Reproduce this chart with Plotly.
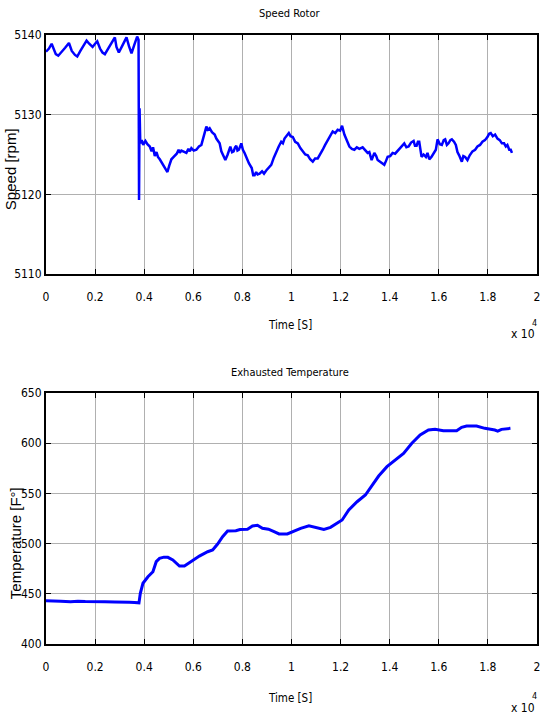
import plotly.graph_objects as go

# ---- Speed rotor (rpm) ----
speed_time = [
    0, 120, 230, 300, 400, 500, 620, 780, 935, 1050, 1180, 1273, 1400, 1520, 1653,
    1760, 1897, 2000, 2087, 2200, 2300, 2398, 2550, 2700, 2805, 2870, 2967, 3100,
    3200, 3279, 3380, 3483, 3600, 3713, 3770, 3790, 3810, 3840, 3900, 3960, 4050,
    4130, 4228, 4300, 4360, 4431, 4500, 4560, 4634, 4720, 4800, 4870, 4946, 5020,
    5108, 5200, 5325, 5400, 5450, 5515, 5600, 5718, 5800, 5860, 5922, 6020, 6125,
    6230, 6329, 6420, 6480, 6532, 6600, 6667, 6760, 6870, 6939, 7073, 7142, 7220,
    7305, 7400, 7508, 7580, 7642, 7700, 7752, 7800, 7858, 7955, 8020, 8089, 8170,
    8264, 8380, 8440, 8496, 8560, 8620, 8699, 8800, 8880, 8970, 9070, 9175, 9280,
    9378, 9480, 9581, 9650, 9715, 9800, 9890, 9960, 10053, 10150, 10257, 10360,
    10460, 10560, 10663, 10760, 10866, 10960, 11069, 11170, 11272, 11370, 11476,
    11580, 11679, 11782, 11882, 11980, 12060, 12154, 12250, 12358, 12460, 12561,
    12660, 12764, 12898, 13000, 13102, 13170, 13264, 13374, 13450, 13509, 13640,
    13780, 13850, 13916, 14020, 14119, 14220, 14322, 14450, 14593, 14680, 14770,
    14870, 14973, 15030, 15095, 15150, 15203, 15298, 15380, 15474, 15540, 15610,
    15700, 15813, 15880, 15949, 16040, 16125, 16200, 16260, 16330, 16396, 16470,
    16531, 16620, 16694, 16760, 16829, 16938, 17000, 17073, 17168, 17260, 17371,
    17480, 17574, 17680, 17777, 17880, 17980, 18050, 18116, 18200, 18293, 18390,
    18483, 18570, 18659, 18730, 18794, 18870, 18930, 18980,
]
speed_rpm = [
    5137.9, 5138.3, 5138.9, 5138.4, 5137.6, 5137.4, 5137.8, 5138.4, 5139.0, 5138.0,
    5137.5, 5137.3, 5138.0, 5138.7, 5139.3, 5138.9, 5138.5, 5138.9, 5139.2, 5138.3,
    5137.8, 5137.6, 5138.4, 5139.2, 5139.7, 5138.5, 5137.8, 5138.6, 5139.3, 5139.7,
    5138.6, 5137.7, 5138.8, 5139.8, 5139.4, 5119.3, 5130.8, 5126.4, 5126.8, 5126.2,
    5126.7, 5126.3, 5126.0, 5125.4, 5125.9, 5124.8, 5125.3, 5124.7, 5124.4, 5124.0,
    5123.5, 5123.2, 5122.8, 5123.6, 5124.4, 5124.7, 5125.1, 5125.6, 5125.2, 5125.5,
    5125.4, 5125.2, 5125.7, 5125.4, 5125.8, 5125.5, 5125.6, 5126.0, 5126.2, 5127.2,
    5128.0, 5128.5, 5128.1, 5128.3, 5127.8, 5127.5, 5127.0, 5126.4, 5125.4, 5124.9,
    5124.3, 5125.0, 5126.0, 5125.3, 5125.4, 5125.9, 5126.1, 5125.5, 5125.6, 5126.4,
    5125.6, 5125.2, 5124.6, 5123.9, 5123.3, 5122.4, 5122.4, 5122.8, 5122.5, 5122.6,
    5122.9, 5122.6, 5123.0, 5123.4, 5123.7, 5124.6, 5125.4, 5126.0, 5126.6, 5126.4,
    5127.0, 5127.3, 5127.7, 5127.3, 5127.2, 5126.6, 5126.4, 5125.8, 5125.4, 5125.0,
    5124.9, 5124.4, 5124.1, 5124.5, 5124.5, 5125.0, 5125.6, 5126.2, 5126.8, 5127.3,
    5127.9, 5127.7, 5128.1, 5128.0, 5128.6, 5127.5, 5126.7, 5126.0, 5125.7, 5125.6,
    5125.9, 5125.7, 5125.9, 5125.6, 5125.2, 5125.3, 5124.3, 5125.2, 5124.8, 5124.3,
    5124.0, 5123.7, 5124.2, 5124.7, 5124.8, 5125.2, 5125.1, 5125.4, 5125.9, 5126.4,
    5125.9, 5126.0, 5126.5, 5126.7, 5126.1, 5126.1, 5126.6, 5126.6, 5124.7, 5125.0,
    5124.7, 5125.2, 5124.4, 5124.7, 5125.2, 5125.6, 5126.9, 5126.3, 5126.2, 5126.8,
    5126.9, 5126.2, 5126.4, 5126.8, 5126.9, 5126.6, 5126.2, 5125.3, 5124.9, 5124.1,
    5124.8, 5124.7, 5124.3, 5124.9, 5125.4, 5125.6, 5126.0, 5126.2, 5126.6, 5126.8,
    5127.2, 5127.6, 5127.7, 5127.3, 5127.5, 5127.0, 5126.8, 5126.4, 5126.4, 5126.0,
    5126.2, 5125.6, 5125.6, 5125.2,
]

# ---- Exhausted temperature (F) ----
temp_time = [
    0, 300, 600, 1000, 1300, 1600, 2000, 2400, 2800, 3100, 3400, 3600, 3787, 3842,
    3949, 4152, 4355, 4490, 4625, 4800, 4963, 5166, 5436, 5639, 5910, 6247, 6585,
    6788, 6991, 7194, 7397, 7734, 7900, 8207, 8410, 8613, 8816, 9060, 9290, 9493,
    9831, 10034, 10372, 10710, 11048, 11318, 11589, 11859, 12062, 12333, 12671,
    13009, 13279, 13550, 13888, 14226, 14564, 14902, 15240, 15578, 15848, 16186,
    16727, 16930, 17132, 17538, 17876, 18282, 18400, 18553, 18918,
]
temp_f = [
    443.0, 443.0, 442.6, 442.0, 442.6, 442.3, 442.4, 442.0, 441.8, 442.0, 441.6,
    441.4, 441.0, 450.5, 460.5, 467.0, 472.0, 482.0, 485.3, 486.5, 486.3, 483.7,
    477.7, 477.7, 482.0, 487.6, 491.9, 493.6, 499.6, 506.9, 512.5, 512.8, 514.0,
    514.3, 517.5, 518.2, 515.2, 514.3, 511.9, 509.6, 509.6, 511.9, 515.2, 517.8,
    516.2, 514.2, 516.2, 520.2, 523.5, 533.5, 541.7, 548.4, 558.4, 567.3, 576.6,
    583.3, 589.9, 599.9, 608.2, 613.1, 613.8, 612.4, 612.4, 615.8, 617.1, 617.1,
    614.8, 613.1, 612.0, 613.8, 614.8,
]

x_tickvals = [0, 2000, 4000, 6000, 8000, 10000, 12000, 14000, 16000, 18000, 20000]
x_ticktext = ["0", "0.2", "0.4", "0.6", "0.8", "1", "1.2", "1.4", "1.6", "1.8", "2"]
speed_ticks = [5110, 5120, 5130, 5140]
temp_ticks = [400, 450, 500, 550, 600, 650]

NARROW = "DejaVu Sans Condensed, Liberation Sans, sans-serif"
REGULAR = "Liberation Sans, Arial, sans-serif"
LINE_BLUE = "#0000ff"

W, H = 541, 720
ML, MR, MT, MB = 46, 2, 35, 76
plot_h = H - MT - MB


def ypaper(py):
    return (H - MB - py) / plot_h


def xpaper(px):
    return (px - ML) / (W - ML - MR)


fig = go.Figure()
fig.add_trace(go.Scatter(x=speed_time, y=speed_rpm, mode="lines",
                         line=dict(color=LINE_BLUE, width=2.5), xaxis="x", yaxis="y",
                         showlegend=False))
fig.add_trace(go.Scatter(x=temp_time, y=temp_f, mode="lines",
                         line=dict(color=LINE_BLUE, width=3), xaxis="x2", yaxis="y2",
                         showlegend=False))

common_axis = dict(
    showline=True, linecolor="black", linewidth=2, mirror="allticks",
    ticks="inside", ticklen=5, tickwidth=1, tickcolor="black",
    showgrid=True, gridcolor="#b0b0b0", gridwidth=1, zeroline=False,
    tickfont=dict(family=NARROW, size=12, color="black"),
)

fig.update_layout(
    width=W, height=H,
    margin=dict(l=ML, r=MR, t=MT, b=MB),
    paper_bgcolor="white", plot_bgcolor="white",
    xaxis=dict(domain=[0, 1], anchor="y", range=[0, 20000],
               tickvals=x_tickvals, ticktext=x_ticktext, ticklabelstandoff=11,
               **common_axis),
    yaxis=dict(domain=[ypaper(274), 1], anchor="x", range=[5110, 5140],
               tickvals=speed_ticks, ticklabelstandoff=0, **common_axis),
    xaxis2=dict(domain=[0, 1], anchor="y2", range=[0, 20000],
                tickvals=x_tickvals, ticktext=x_ticktext, ticklabelstandoff=11,
                **common_axis),
    yaxis2=dict(domain=[0, ypaper(393)], anchor="x2", range=[400, 650],
                tickvals=temp_ticks, ticklabelstandoff=0, **common_axis),
)

annotations = [
    dict(text="Speed Rotor", x=xpaper(291), y=ypaper(13), size=11, family=NARROW, angle=0),
    dict(text="Exhausted Temperature", x=xpaper(291), y=ypaper(372), size=11, family=NARROW, angle=0),
    dict(text="Time [S]", x=xpaper(291), y=ypaper(325), size=11.5, family=NARROW, angle=0),
    dict(text="Time [S]", x=xpaper(291), y=ypaper(698), size=11.5, family=NARROW, angle=0),
    dict(text="x 10", x=xpaper(525), y=ypaper(334), size=12, family=NARROW, angle=0),
    dict(text="4", x=xpaper(536), y=ypaper(323), size=9, family=NARROW, angle=0),
    dict(text="x 10", x=xpaper(525), y=ypaper(708), size=12, family=NARROW, angle=0),
    dict(text="4", x=xpaper(536), y=ypaper(696), size=9, family=NARROW, angle=0),
    dict(text="Speed [rpm]", x=xpaper(11), y=ypaper(169), size=15, family=REGULAR, angle=-90),
    dict(text="Temperature [F°]", x=xpaper(15), y=ypaper(543), size=15, family=REGULAR, angle=-90),
]
for a in annotations:
    fig.add_annotation(text=a["text"], x=a["x"], y=a["y"], xref="paper", yref="paper",
                       showarrow=False, textangle=a["angle"],
                       xanchor="center", yanchor="middle",
                       font=dict(family=a["family"], size=a["size"], color="black"))

fig.write_html("out.html")
